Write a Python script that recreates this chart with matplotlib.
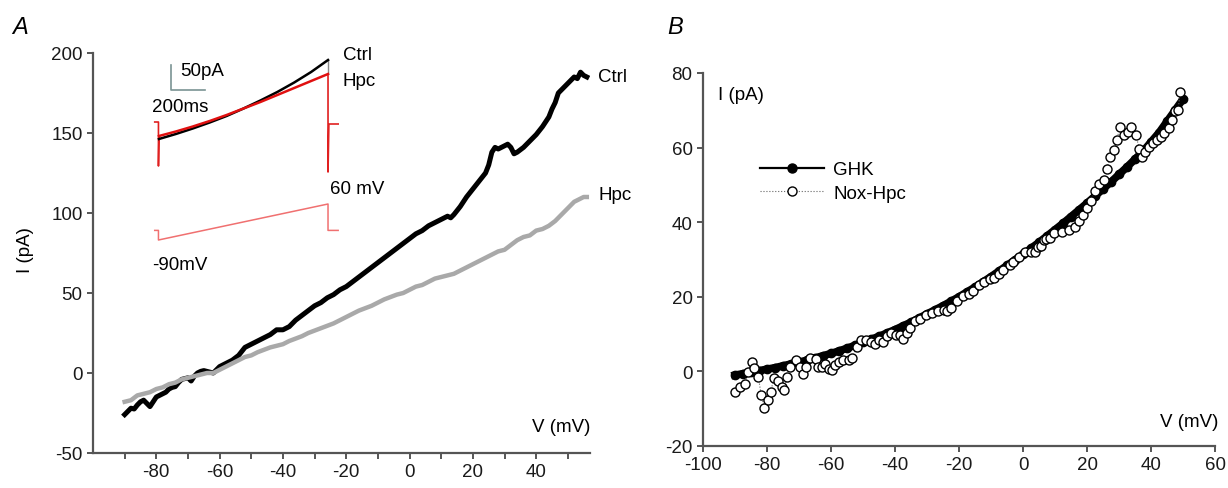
import matplotlib
matplotlib.use('Agg')
import matplotlib.pyplot as plt

plt.rcParams['font.family'] = ['Liberation Sans', 'DejaVu Sans']
plt.rcParams['axes.unicode_minus'] = False

# ---- panel A: I-V ramps (mV, pA) ----
ctrl_v = [-90, -89, -88, -87, -86, -85, -84, -83, -82, -81, -80, -79, -78, -77, -76, -75,
          -74, -73, -72, -71, -70, -69, -68, -67, -66, -65, -64, -63, -62, -61, -60, -58,
          -56, -54, -52, -50, -48, -46, -44, -42, -40, -38, -36, -34, -32, -30, -28, -26,
          -24, -22, -20, -18, -16, -14, -12, -10, -8, -6, -4, -2, 0, 2, 4, 6, 8, 10, 12,
          13, 14, 16, 18, 20, 22, 24, 25, 26, 27, 28, 30, 31, 32, 33, 34, 36, 38, 40, 42,
          44, 45, 46, 47, 48, 50, 52, 53, 54, 55, 56]
ctrl_i = [-26, -24, -22, -22.5, -20, -18, -17, -19, -21, -18, -15, -14, -13, -12, -10, -9,
          -8.5, -6, -4, -3.5, -3, -5, -2, 0, 1, 1.5, 1, 0.5, 0, 2, 4, 6,
          8, 11, 16, 18, 20, 22, 24, 27, 27, 29, 33, 36, 39, 42, 44, 47,
          49, 52, 54, 57, 60, 63, 66, 69, 72, 75, 78, 81, 84, 87, 89, 92, 94, 96, 98,
          97, 99, 104, 110, 115, 120, 125, 130, 138, 141, 140, 142, 143, 141, 137, 138, 141, 145, 149, 154,
          160, 165, 169, 175, 177, 181, 185, 184, 188, 186, 185]

hpc_v = [-90, -88, -86, -84, -82, -80, -78, -76, -74, -72, -70, -68, -66, -64, -62, -60,
         -58, -56, -54, -52, -50, -48, -46, -44, -42, -40, -38, -36, -34, -32, -30, -28,
         -26, -24, -22, -20, -18, -16, -14, -12, -10, -8, -6, -4, -2, 0, 2, 4, 6, 8, 10,
         12, 14, 16, 18, 20, 22, 24, 26, 28, 30, 32, 34, 36, 38, 40, 42, 44, 46, 48, 50,
         52, 54, 55, 56]
hpc_i = [-18, -17, -14, -13, -12, -10, -9, -7, -6, -4, -3, -2, -1, 0, 0, 2,
         4, 6, 8, 10, 11, 13, 14.5, 16, 17, 18, 20, 21.5, 23, 25, 26.5, 28,
         29.5, 31, 33, 35, 37, 39, 40.5, 42, 44, 46, 47.5, 49, 50, 52, 54, 55, 57, 59, 60,
         61, 62, 64, 66, 68, 70, 72, 74, 76, 77, 80, 83, 85, 86, 89, 90, 92, 95, 99, 103,
         107, 109, 110, 110]

# ---- inset: current traces (ms, pA) and voltage ramp (ms, mV) ----
trace_t = [0, 100, 200, 300, 400, 500, 600, 700, 800, 900, 1000]
trace_ctrl = [0, 10, 21, 33, 46, 61, 77, 94, 113, 134, 158]
trace_hpc = [6, 15, 25, 36, 48, 61, 74, 88, 102, 116, 130]
hold_i_hpc = 34
step_t = [-25, -3, -3, 1000, 1000, 1060]
step_mv = [-50, -50, -90, 60, -50, -50]

# ---- panel B (mV, pA) ----
ghk_v = [-90, -87.5, -85, -82.5, -80, -77.5, -75, -72.5, -70, -67.5, -65, -62.5, -60,
         -57.5, -55, -52.5, -50, -47.5, -45, -42.5, -40, -37.5, -35, -32.5, -30, -27.5,
         -25, -22.5, -20, -17.5, -15, -12.5, -10, -7.5, -5, -2.5, 0, 2.5, 5, 7.5, 10,
         12.5, 15, 17.5, 20, 22.5, 25, 27.5, 30, 32.5, 35, 37.5, 40, 42.5, 45, 47.5, 50]
ghk_i = [-1.0, -0.6, -0.2, 0.2, 0.6, 1.0, 1.5, 2.0, 2.5, 3.0, 3.6, 4.2, 4.8,
         5.5, 6.2, 7.0, 7.8, 8.6, 9.4, 10.3, 11.2, 12.2, 13.2, 14.3, 15.4, 16.5,
         17.6, 18.8, 20.0, 21.3, 22.6, 24.0, 25.4, 26.9, 28.4, 29.9, 31.4, 33.0, 34.6, 36.3, 38.0,
         39.7, 41.5, 43.3, 45.1, 47.0, 48.9, 50.8, 52.8, 54.8, 56.9, 59.0, 61.5, 64.0, 67.0, 70.0, 73.0]

nox_v = [-90.1, -88.5, -87, -86, -84.8, -84, -82.7, -81.8, -80.8, -79.8, -78.8, -77.9,
         -76.6, -75.4, -74.7, -73.7, -72.7, -70.9, -69.7, -68.8, -67.9, -66.7, -64.8, -64,
         -62.8, -61.8, -60.6, -59.6, -58.8, -57.6, -56.4, -54.5, -53.3, -51.9, -50.7, -49.1,
         -47.5, -46.1, -45.1, -43.9, -42.4, -41.2, -39.8, -38.5, -37.6, -36.1, -35.2, -33.9,
         -32.1, -30.3, -28.5, -26.7, -24.8, -23.6, -22.4, -20.6, -18.8, -17, -15.5, -13.9,
         -12.1, -10.3, -9.1, -7.5, -6.1, -4.2, -3, -1.2, 0.6, 2.4, 3.9, 4.8, 5.5, 6.7, 7.3,
         8.5, 9.7, 12.1, 14.5, 16.4, 17.6, 18.8, 20, 21.2, 22.4, 23.6, 25.2, 26.1, 27.3,
         28.5, 29.3, 30.3, 31.5, 32.7, 33.9, 35.2, 36.4, 37.3, 38.2, 39.4, 40.6, 41.8, 43,
         44.2, 45.5, 46.7, 47.5, 48.5, 49.1]
nox_i = [-5.5, -4.3, -3.4, -0.2, 2.5, 0.9, -1.5, -6.4, -9.7, -7.7, -5.6, -1.7,
         -2.5, -4.3, -5, -1.4, 1.2, 3, 1.2, -0.6, 1.2, 3.5, 3.3, 1.2,
         1.2, 2.1, 0.7, 0.5, 1.6, 2.5, 3, 3, 3.7, 6.5, 8.5, 8.5,
         8, 7.4, 8.5, 8, 9.4, 10.3, 9.8, 9.8, 8.6, 10.3, 11.6, 13.5,
         14.1, 15, 15.7, 16.2, 16.5, 16.2, 17.1, 18.9, 20.3, 20.7, 21.6, 23.2,
         24.1, 24.8, 25, 26.2, 27.1, 28.5, 29.4, 30.7, 32, 32, 32, 33.4, 33.5, 35.3, 35.6,
         35.7, 37, 37.5, 37.9, 38.8, 40.2, 42, 43.8, 45.6, 48.4, 50.2, 51.3, 54.3, 57.5,
         59.3, 62, 65.6, 63.4, 64.3, 65.5, 63.4, 59.7, 57.5, 58.8, 60.2, 61.1, 62, 62.9,
         63.8, 65.2, 67.5, 69.7, 70.2, 74.9]

W, H = 1228, 489
fig = plt.figure(figsize=(W / 100, H / 100), dpi=100)


def px_axes(x0, y0, x1, y1):
    # pixel box (left, top, right, bottom) -> figure fraction axes
    return fig.add_axes([x0 / W, 1 - y1 / H, (x1 - x0) / W, (y1 - y0) / H])


def ftext(x, y, s, **kw):
    # text placed at image pixel coords (origin top-left)
    kw.setdefault('fontsize', fs)
    kw.setdefault('va', 'center')
    kw.setdefault('ha', 'left')
    return fig.text(x / W, 1 - y / H, s, **kw)


spine_col = '#555555'
fs = 13.5


def style(ax):
    for s in ['top', 'right']:
        ax.spines[s].set_visible(False)
    for s in ['left', 'bottom']:
        ax.spines[s].set_color(spine_col)
        ax.spines[s].set_linewidth(1.6)
    ax.tick_params(which='both', direction='out', color=spine_col, width=1.4,
                   labelsize=fs, labelcolor='#1a1a1a', pad=3, length=4.5)


# ---------------- panel A ----------------
axA = px_axes(93, 54, 590, 454)
axA.plot(ctrl_v, ctrl_i, color='black', lw=3.6, solid_joinstyle='round', zorder=2)
axA.plot(hpc_v, hpc_i, color='#a9a9a9', lw=3.2, solid_joinstyle='round', zorder=3)
axA.set_xlim(-100, 57)
axA.set_ylim(-50, 200)
axA.set_xticks([-80, -60, -40, -20, 0, 20, 40])
axA.set_xticks([-90, -70, -50, -30, -10, 10, 30, 50], minor=True)
axA.set_yticks([-50, 0, 50, 100, 150, 200])
style(axA)
ftext(598, 77, 'Ctrl')
ftext(598, 196, 'Hpc')
ftext(590, 428, 'V (mV)', ha='right')
ftext(25, 250, 'I (pA)', ha='center', rotation=90)
ftext(12, 27, 'A', fontsize=17, style='italic')

# inset traces
axI = px_axes(150, 50, 350, 250)
axI.set_xlim(-53, 1130)
axI.set_ylim(-220, 180)
axI.axis('off')
axV = px_axes(150, 50, 350, 250)
axV.set_xlim(-53, 1130)
axV.set_ylim(-127.5, 705.8)
axV.axis('off')

axV.plot(step_t, step_mv, color='#f07070', lw=1.1)
axI.plot([-25, -3, -3, 0], [hold_i_hpc, hold_i_hpc, -54, trace_hpc[0]], color='#e02020', lw=1.2)
axI.plot([1000, 1000, 1005, 1060], [trace_hpc[-1], -66, hold_i_hpc - 4, hold_i_hpc - 4],
         color='#e02020', lw=1.2)
axI.plot([1000, 1000], [trace_ctrl[-1], trace_hpc[-1]], color='#888888', lw=1.0)
axI.plot(trace_t, trace_hpc, color='#e01010', lw=1.8, zorder=3)
axI.plot(trace_t, trace_ctrl, color='black', lw=1.8, zorder=2)
# scale bar 50 pA / 200 ms
axI.plot([71, 71, 271], [148, 98, 98], color='#7a9494', lw=1.2)

ftext(180, 72, '50pA')
ftext(152, 107, '200ms')
ftext(343, 55, 'Ctrl')
ftext(343, 82, 'Hpc')
ftext(330, 190, '60 mV')
ftext(152, 266, '-90mV')

# ---------------- panel B ----------------
axB = px_axes(703, 74, 1215, 447)
axB.plot(ghk_v, ghk_i, color='black', lw=5.5, marker='o', ms=6, mfc='black',
         mec='black', label='GHK', zorder=2)
axB.plot(nox_v, nox_i, color='#666666', lw=0.8, ls=':', marker='o', ms=6.5,
         mfc='white', mec='black', mew=1.0, label='Nox-Hpc', zorder=3)
axB.set_xlim(-100, 60)
axB.set_ylim(-20, 80)
axB.set_xticks(range(-100, 61, 20))
axB.set_yticks(range(-20, 81, 20))
style(axB)
leg = axB.legend(loc='upper left', bbox_to_anchor=(760 / W, 1 - 162 / H),
                 bbox_transform=fig.transFigure, frameon=False, fontsize=fs,
                 handlelength=3.4, handletextpad=0.5, labelspacing=0.35,
                 borderpad=0, borderaxespad=0)
for h in leg.legend_handles:
    h.set_markersize(6.5)
leg.legend_handles[0].set_linewidth(1.6)
ftext(1218, 423, 'V (mV)', ha='right')
ftext(718, 95, 'I (pA)')
ftext(667, 27, 'B', fontsize=17, style='italic')

fig.savefig('out.png', dpi=100)
